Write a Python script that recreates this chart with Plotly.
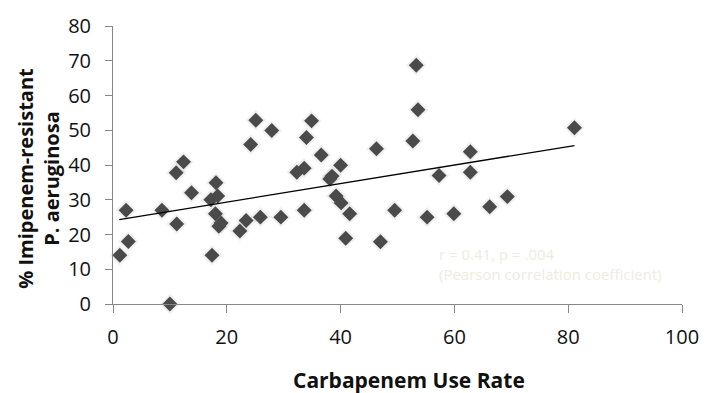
import plotly.graph_objects as go

# Data
use_rate = [1.2, 2.3, 2.7, 10.0, 8.6, 11.1, 12.4, 11.2, 13.8, 18.1, 17.2, 18.4, 18.0,
            18.6, 19.0, 17.4, 22.3, 23.4, 25.9, 29.5, 24.2, 25.1, 27.9, 32.3, 33.6,
            34.0, 34.9, 33.6, 36.6, 40.0, 38.5, 38.1, 39.2, 40.1, 41.6, 40.9, 46.3,
            47.0, 49.5, 52.7, 53.3, 53.6, 55.2, 57.3, 59.9, 62.8, 62.8, 66.2, 69.3, 81.1]
resistant = [14, 27, 18, 0, 27, 37.8, 40.9, 23, 32, 34.9, 30, 31.1, 26,
             22.4, 23.3, 14, 21, 24, 25, 25, 45.9, 52.9, 49.9, 37.9, 39.1,
             47.9, 52.7, 27, 42.9, 39.9, 36.8, 36.0, 31.1, 29.1, 26, 18.9, 44.7,
             17.9, 27, 46.9, 68.7, 55.9, 25, 37, 26, 43.8, 37.9, 28, 30.9, 50.7]

trend_x = [1.1, 81.1]
trend_y = [24.3, 45.6]

x_ticks = [0, 20, 40, 60, 80, 100]
y_ticks = [0, 10, 20, 30, 40, 50, 60, 70, 80]

FONT = "Open Sans"
AXIS_COLOR = "#878787"

fig = go.Figure()

# soft halo (shadow) under markers
fig.add_trace(go.Scatter(
    x=use_rate, y=resistant, mode="markers",
    marker=dict(symbol="diamond", size=16, color="rgba(0,0,0,0.06)", line=dict(width=0)),
    hoverinfo="skip", showlegend=False, cliponaxis=False))

fig.add_trace(go.Scatter(
    x=use_rate, y=resistant, mode="markers",
    marker=dict(symbol="diamond", size=11.5, color="#4a4a4a", line=dict(width=0)),
    showlegend=False, cliponaxis=False))

fig.add_trace(go.Scatter(
    x=trend_x, y=trend_y, mode="lines",
    line=dict(color="black", width=1.3),
    showlegend=False, hoverinfo="skip", cliponaxis=False))

fig.update_layout(
    width=711, height=393,
    margin=dict(l=113, r=19, t=21, b=89),
    paper_bgcolor="white", plot_bgcolor="white",
    font=dict(family=FONT, color="#111111"),
    xaxis=dict(
        range=[0, 100], tickvals=x_ticks, ticktext=[str(v) for v in x_ticks],
        showgrid=False, zeroline=False,
        showline=True, linecolor=AXIS_COLOR, linewidth=1,
        ticks="outside", ticklen=8, tickcolor=AXIS_COLOR, tickwidth=1,
        tickfont=dict(family=FONT, size=20, color="#111111"),
        ticklabelstandoff=7,
    ),
    yaxis=dict(
        range=[0, 80], tickvals=y_ticks, ticktext=[str(v) for v in y_ticks],
        showgrid=False, zeroline=False,
        showline=True, linecolor=AXIS_COLOR, linewidth=1,
        ticks="outside", ticklen=7, tickcolor=AXIS_COLOR, tickwidth=1,
        tickfont=dict(family=FONT, size=20, color="#111111"),
        ticklabelstandoff=10,
    ),
    annotations=[
        dict(text="<b>Carbapenem Use Rate</b>", xref="paper", yref="paper",
             x=0.52, y=-0.274, xanchor="center", yanchor="middle", showarrow=False,
             font=dict(family=FONT, size=21, color="#111111")),
        dict(text="<b>% Imipenem-resistant<br>P. aeruginosa</b>", xref="paper", yref="paper",
             x=-0.131, y=0.452, xanchor="center", yanchor="middle", showarrow=False,
             textangle=-90, align="center",
             font=dict(family=FONT, size=20, color="#111111")),
        dict(text="r = 0.41, p = .004<br>(Pearson correlation coefficient)",
             xref="paper", yref="paper", x=0.570, y=0.1456,
             xanchor="left", yanchor="middle", align="left", showarrow=False,
             font=dict(family=FONT, size=15, color="#efebde")),
    ],
)

fig.write_html("out.html")
